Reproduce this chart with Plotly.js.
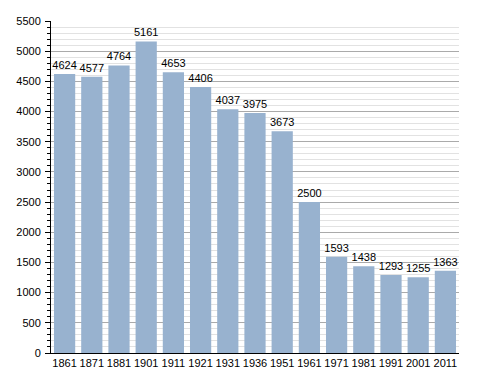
<!DOCTYPE html>
<html><head><meta charset="utf-8">
<script src="https://cdn.plot.ly/plotly-3.0.1.min.js"></script>
<style>body{margin:0;padding:0;background:#fff}#c{width:488px;height:373px}</style>
</head><body><div id="c"></div>
<script>
const years = ['1861','1871','1881','1901','1911','1921','1931','1936','1951','1961','1971','1981','1991','2001','2011'];
const population = [4624,4577,4764,5161,4653,4406,4037,3975,3673,2500,1593,1438,1293,1255,1363];

Plotly.newPlot('c', [{
  type: 'bar',
  x: years,
  y: population,
  marker: {color: '#98b2cf'},
  text: population.map(String),
  textposition: 'outside',
  constraintext: 'none',
  textfont: {family: 'Liberation Sans, Arial, sans-serif', size: 11, color: '#000'},
  cliponaxis: false,
  hoverinfo: 'none'
}], {
  width: 488, height: 373,
  margin: {l: 51, r: 29, t: 21, b: 20},
  paper_bgcolor: '#fff', plot_bgcolor: '#fff',
  bargap: 0.22,
  showlegend: false,
  font: {family: 'Liberation Sans, Arial, sans-serif', size: 11, color: '#000'},
  xaxis: {
    type: 'category',
    showline: true, linecolor: '#000', linewidth: 1,
    ticks: '', showgrid: false,
    tickfont: {size: 11},
    ticklabelstandoff: 0
  },
  yaxis: {
    range: [0, 5500],
    dtick: 500,
    showline: true, linecolor: '#000', linewidth: 1,
    ticks: 'outside', ticklen: 5, tickcolor: '#000',
    gridcolor: '#aaaaaa', gridwidth: 1,
    zeroline: false,
    tickfont: {size: 11},
    ticklabelstandoff: 2,
    minor: {dtick: 100, ticks: 'outside', ticklen: 3, tickcolor: '#000', showgrid: true, gridcolor: '#e2e2e2', gridwidth: 1}
  }
}, {displayModeBar: false, staticPlot: true});
</script></body></html>
